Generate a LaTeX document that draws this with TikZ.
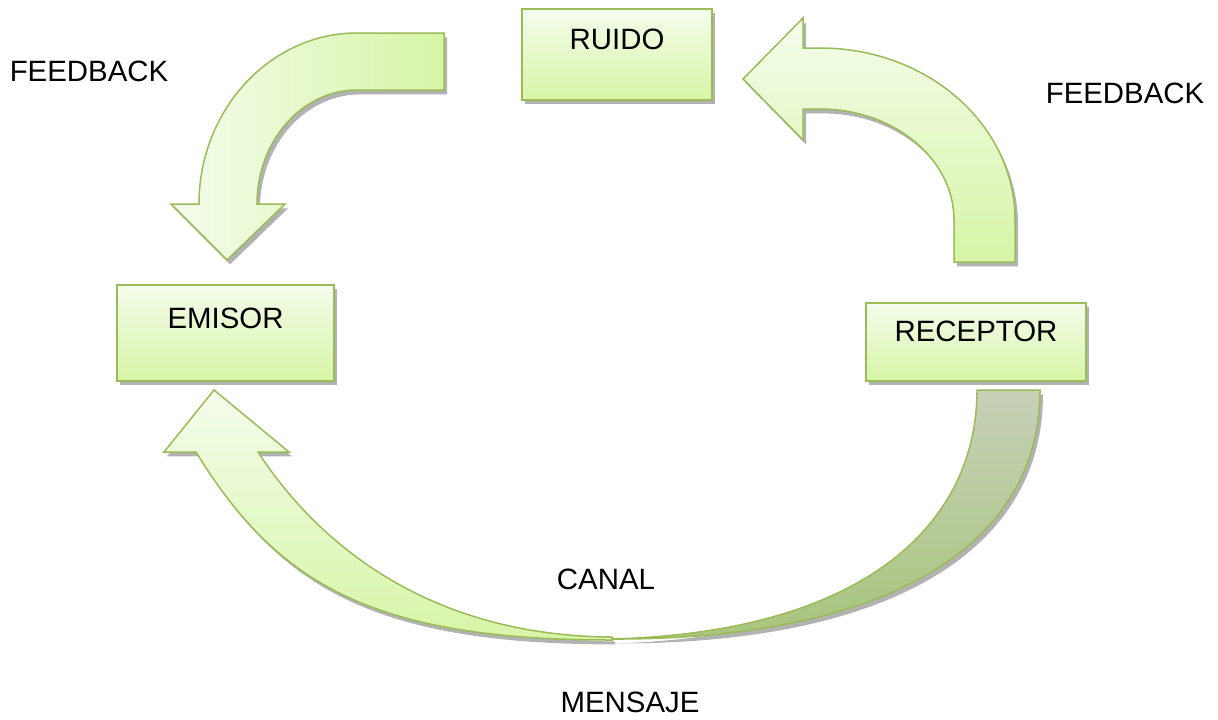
\documentclass[tikz,border=0pt]{standalone}
\usepackage{fontspec}
\setmainfont{Liberation Sans}
\usetikzlibrary{shadows}

\definecolor{borde}{RGB}{155,187,89}
\definecolor{verdeclaro}{RGB}{244,252,236}
\definecolor{verdemedio}{RGB}{215,245,166}
\definecolor{oscurotop}{RGB}{199,208,184}
\definecolor{oscurobot}{RGB}{168,197,124}

\tikzset{every picture/.style={line width=0.75pt}}
\tikzset{
  texto/.style={font=\fontsize{14.7}{17}\selectfont, inner sep=0.75pt},
  sombra/.style={drop shadow={shadow xshift=1.5pt, shadow yshift=-2.2pt, opacity=0.3, fill=black}},
  caja/.style={texto, draw=borde, line width=1pt, top color=verdeclaro, bottom color=verdemedio, sombra, inner sep=0pt, anchor=north},
  flecha/.style={draw=borde, line width=0.75pt, line join=miter, sombra},
}

\begin{document}
\begin{tikzpicture}[x=0.5pt,y=0.5pt,yscale=-1,xscale=1]
\useasboundingbox (0,0) rectangle (1218,719);

%Shape: Curved Arrow (feedback, top left)
\draw [flecha, left color=verdeclaro, right color=verdemedio] (444,33) -- (357,33) .. controls (270,33) and (199,110) .. (199,204) -- (171,204) -- (227,260) -- (285,204) -- (257,204) .. controls (257,141) and (302,90) .. (357,90) -- (444,90) -- cycle ;
%Shape: Curved Arrow (feedback, top right)
\draw [flecha, top color=verdeclaro, bottom color=verdemedio] (743,79) -- (803,18) -- (803,48) -- (820,48) .. controls (928,48) and (1015,125) .. (1015,220) -- (1015,262) -- (954,262) -- (954,220) .. controls (954,159) and (894,109) .. (820,109) -- (803,109) -- (803,140) -- cycle ;
%Shape: Curved Up Arrow (canal, back part)
\draw [flecha, top color=oscurotop, bottom color=oscurobot] (977,390) -- (1040,390) .. controls (1040,550) and (880,640) .. (612,639) .. controls (870,632) and (977,520) .. (977,390) -- cycle ;
%Shape: Curved Up Arrow (canal, front part)
\draw [flecha, top color=verdeclaro, bottom color=verdemedio] (612,640) .. controls (372,640) and (277,584) .. (196,452) -- (164,452) -- (214,390) -- (289,452) -- (258,452) .. controls (320,547) and (432,636) .. (612,637) -- cycle ;

%Shape: Rectangle
\node [caja, minimum width=95pt, text height=20pt, text depth=25.5pt] (ruido) at (617,8) {RUIDO};
%Shape: Rectangle
\node [caja, minimum width=108.5pt, text height=21.5pt, text depth=26.5pt] (emisor) at (225.5,284) {EMISOR};
%Shape: Rectangle
\node [caja, minimum width=110pt, text height=19pt, text depth=20pt] (receptor) at (976,302) {RECEPTOR};

% Text Node
\node [texto] (feedbackizq) at (89,71) {FEEDBACK};
% Text Node
\node [texto] (feedbackder) at (1125,93) {FEEDBACK};
% Text Node
\node [texto] (canal) at (606,579) {CANAL};
% Text Node
\node [texto] (mensaje) at (630,702) {MENSAJE};

\end{tikzpicture}
\end{document}
